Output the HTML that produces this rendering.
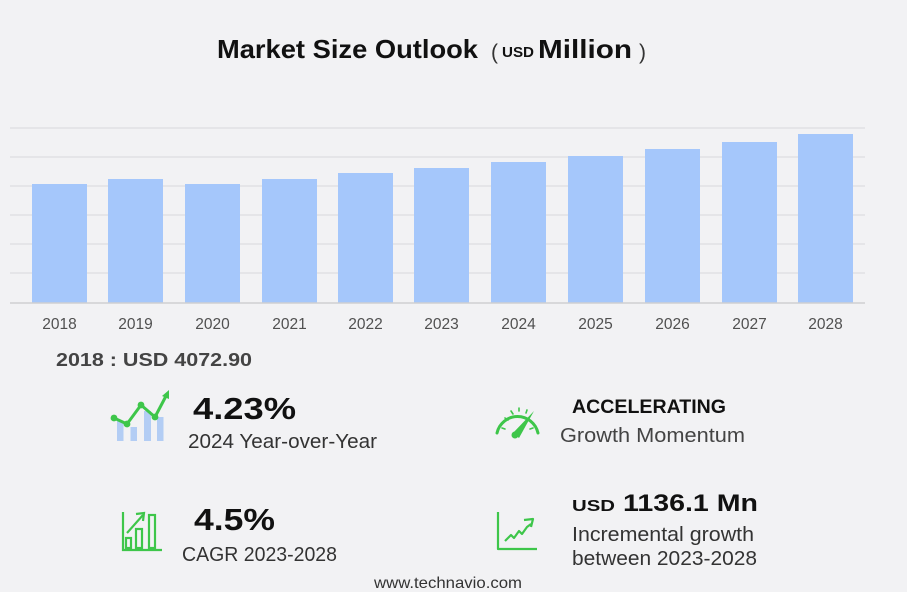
<!DOCTYPE html>
<html><head><meta charset="utf-8"><style>
html,body{margin:0;padding:0;background:#f2f2f4;}
svg{display:block;}
text{font-family:"Liberation Sans",Arial,sans-serif;}
</style></head><body>
<svg width="907" height="592" viewBox="0 0 907 592" xmlns="http://www.w3.org/2000/svg">
<rect x="0" y="0" width="907" height="592" fill="#f2f2f4"/>
<!-- title -->
<text x="217" y="58" font-size="26" font-weight="bold" fill="#111" textLength="261" lengthAdjust="spacingAndGlyphs">Market Size Outlook</text>
<text x="491" y="59" font-size="21" fill="#333">(</text>
<text x="502" y="57" font-size="15" font-weight="bold" fill="#111" textLength="32" lengthAdjust="spacingAndGlyphs">USD</text>
<text x="538" y="58" font-size="26" font-weight="bold" fill="#111" textLength="94" lengthAdjust="spacingAndGlyphs">Million</text>
<text x="639" y="59" font-size="21" fill="#333">)</text>
<!-- gridlines -->
<g stroke="#dddde0" stroke-width="1.2">
<line x1="10" y1="128" x2="865" y2="128"/>
<line x1="10" y1="157" x2="865" y2="157"/>
<line x1="10" y1="186" x2="865" y2="186"/>
<line x1="10" y1="215" x2="865" y2="215"/>
<line x1="10" y1="244" x2="865" y2="244"/>
<line x1="10" y1="273" x2="865" y2="273"/>
</g>
<!-- bars -->
<g fill="#a5c7fb">
<rect x="32" y="184" width="55" height="119"/>
<rect x="108" y="179" width="55" height="124"/>
<rect x="185" y="184" width="55" height="119"/>
<rect x="262" y="179" width="55" height="124"/>
<rect x="338" y="173" width="55" height="130"/>
<rect x="414" y="168" width="55" height="135"/>
<rect x="491" y="162" width="55" height="141"/>
<rect x="568" y="156" width="55" height="147"/>
<rect x="645" y="149" width="55" height="154"/>
<rect x="722" y="142" width="55" height="161"/>
<rect x="798" y="134" width="55" height="169"/>
</g>
<line x1="10" y1="303" x2="865" y2="303" stroke="#cfcfd2" stroke-width="1.5"/>
<!-- year labels -->
<g font-size="15.5" fill="#505050" text-anchor="middle">
<text x="59.5" y="329">2018</text>
<text x="135.5" y="329">2019</text>
<text x="212.5" y="329">2020</text>
<text x="289.5" y="329">2021</text>
<text x="365.5" y="329">2022</text>
<text x="441.5" y="329">2023</text>
<text x="518.5" y="329">2024</text>
<text x="595.5" y="329">2025</text>
<text x="672.5" y="329">2026</text>
<text x="749.5" y="329">2027</text>
<text x="825.5" y="329">2028</text>
</g>
<!-- 2018 value -->
<text x="56" y="366" font-size="18" font-weight="bold" fill="#444" textLength="196" lengthAdjust="spacingAndGlyphs">2018 : USD  4072.90</text>

<!-- icon 1 -->
<g>
<g fill="#b3cdf4">
<rect x="117" y="421" width="6.5" height="20"/>
<rect x="130.5" y="427" width="6.5" height="14"/>
<rect x="144" y="411" width="7" height="30"/>
<rect x="157" y="417" width="6.5" height="24"/>
</g>
<polyline points="114,418 127,424 141,405 155,417 166,396" fill="none" stroke="#3ec64a" stroke-width="3" stroke-linejoin="round"/>
<polygon points="162,396 169,390 169,399" fill="#3ec64a"/>
<g fill="#3ec64a">
<circle cx="114" cy="418" r="3.4"/>
<circle cx="127" cy="424" r="3.4"/>
<circle cx="141" cy="405" r="3.4"/>
<circle cx="155" cy="417" r="3.4"/>
</g>
</g>
<text x="193" y="419" font-size="31" font-weight="bold" fill="#111" textLength="103" lengthAdjust="spacingAndGlyphs">4.23%</text>
<text x="188" y="448" font-size="20" fill="#333" textLength="189" lengthAdjust="spacingAndGlyphs">2024 Year-over-Year</text>

<!-- icon 3 -->
<g fill="none" stroke="#3ec64a" stroke-width="2.2">
<polyline points="123,512 123,550 162,550"/>
<rect x="126" y="538" width="5" height="10"/>
<rect x="136" y="529" width="6" height="19"/>
<rect x="149" y="515" width="6" height="33"/>
<line x1="127" y1="533" x2="143" y2="515"/>
<polyline points="136,514 144,513 143,521"/>
</g>
<text x="194" y="530" font-size="31" font-weight="bold" fill="#111" textLength="81" lengthAdjust="spacingAndGlyphs">4.5%</text>
<text x="182" y="561" font-size="20" fill="#333" textLength="155" lengthAdjust="spacingAndGlyphs">CAGR 2023-2028</text>

<!-- gauge icon -->
<g fill="none" stroke="#3ec64a" stroke-width="3" stroke-linecap="round">
<path d="M497,433 A21,21 0 0 1 538,433"/>
<g stroke-width="1.6">
<line x1="502" y1="428" x2="505" y2="429"/>
<line x1="505" y1="418" x2="508" y2="420"/>
<line x1="511" y1="411" x2="513" y2="414"/>
<line x1="519" y1="408" x2="519" y2="411"/>
<line x1="527" y1="410" x2="526" y2="413"/>
<line x1="533" y1="428" x2="530" y2="429"/>
</g>
</g>
<path d="M513,433 L534,411 L519,438 Z" fill="#3ec64a"/>
<circle cx="515" cy="435" r="3.5" fill="#3ec64a"/>
<text x="572" y="413" font-size="19" font-weight="bold" fill="#111" textLength="154" lengthAdjust="spacingAndGlyphs">ACCELERATING</text>
<text x="560" y="442" font-size="20" fill="#444" textLength="185" lengthAdjust="spacingAndGlyphs">Growth Momentum</text>

<!-- icon 4 -->
<g fill="none" stroke="#3ec64a" stroke-width="2.2" stroke-linejoin="round">
<polyline points="498,512 498,549 537,549"/>
<polyline points="505,541 511,535 514,538 519,531 522,534 527,527 531,524"/>
<polyline points="524,520 533,519 531,527"/>
</g>
<text x="572" y="511" font-size="16" font-weight="bold" fill="#111" textLength="43" lengthAdjust="spacingAndGlyphs">USD</text>
<text x="623" y="511" font-size="24" font-weight="bold" fill="#111" textLength="135" lengthAdjust="spacingAndGlyphs">1136.1 Mn</text>
<text x="572" y="541" font-size="20" fill="#333" textLength="182" lengthAdjust="spacingAndGlyphs">Incremental growth</text>
<text x="572" y="565" font-size="20" fill="#333" textLength="185" lengthAdjust="spacingAndGlyphs">between 2023-2028</text>

<text x="374" y="588" font-size="16" fill="#333" textLength="148" lengthAdjust="spacingAndGlyphs">www.technavio.com</text>
</svg>
</body></html>
